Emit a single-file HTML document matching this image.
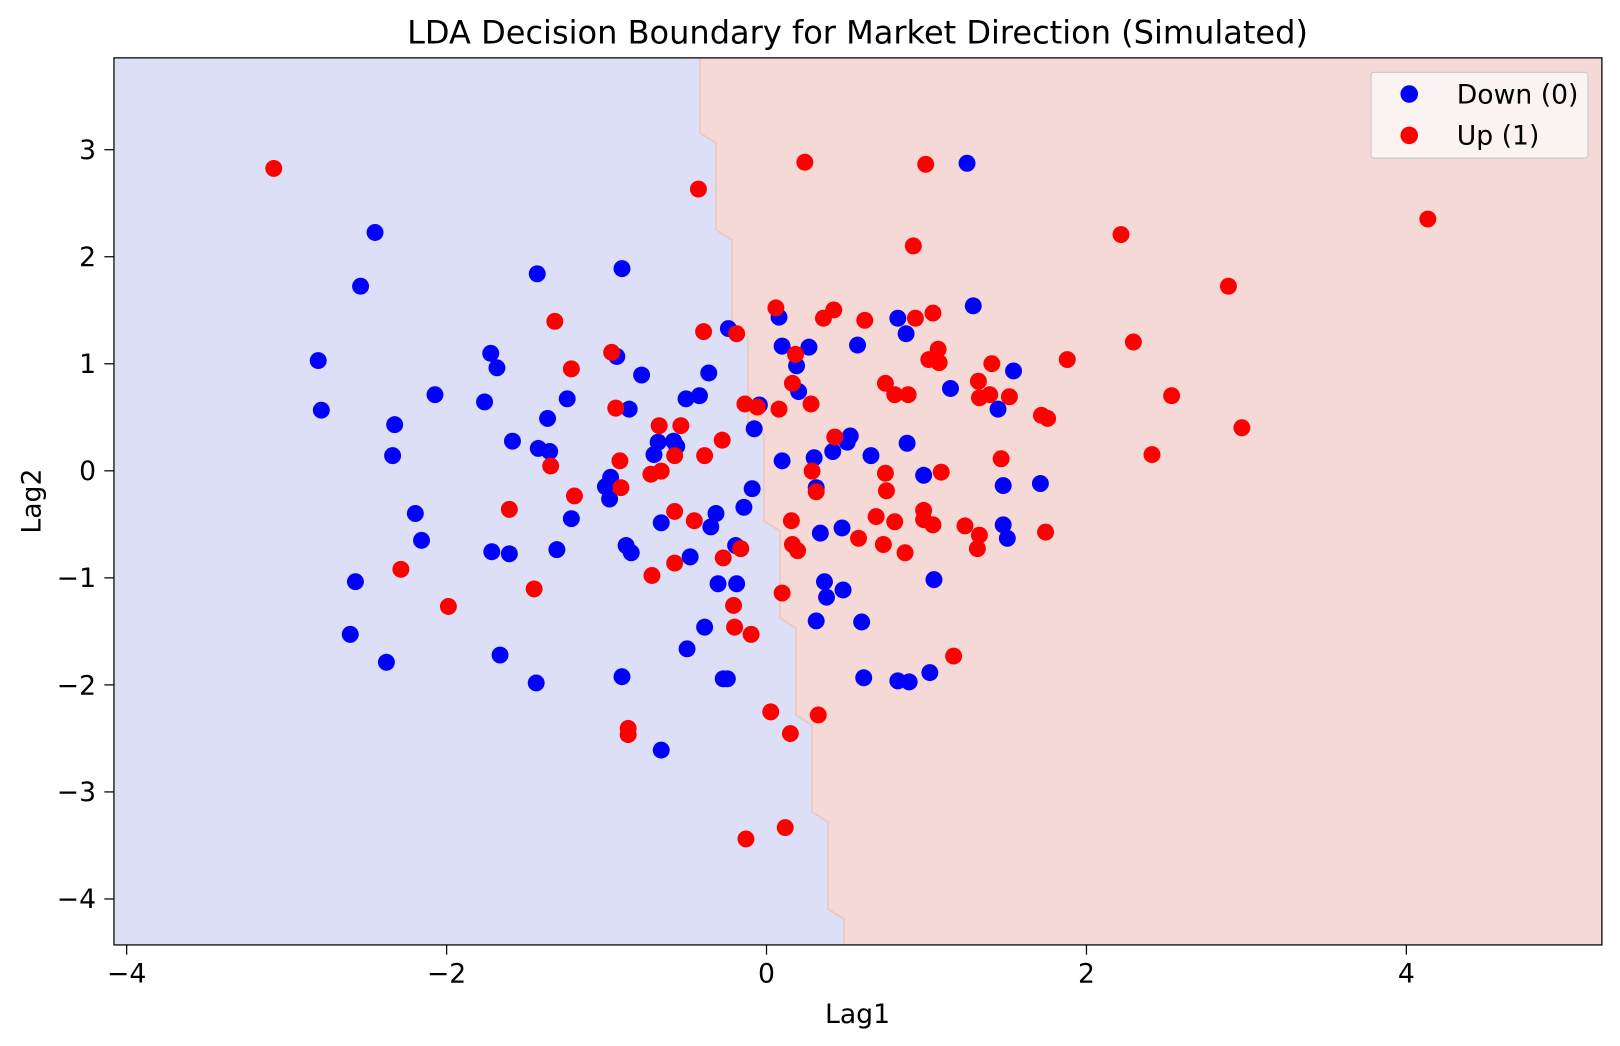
<!DOCTYPE html>
<html><head><meta charset="utf-8"><style>
html,body{margin:0;padding:0;background:#fff;}
svg{display:block;font-family:"DejaVu Sans","Liberation Sans",sans-serif;}
</style></head><body>
<svg width="1620" height="1046" viewBox="0 0 1568 1012.4" xmlns="http://www.w3.org/2000/svg">
<defs><clipPath id="c"><rect x="110.3" y="56" width="1440.2" height="858.6"/></clipPath></defs>
<rect x="110.3" y="56" width="1440.2" height="858.6" fill="#dcdff5"/>
<g clip-path="url(#c)">
<polygon fill="#f5d9d6" stroke="#f0c4bc" stroke-width="1.5" points="677.5,56 677.5,128.7 693,138.4 693,222.6 708.5,232.3 708.5,316.5 724,326.2 724,410.4 739.5,420.1 739.5,504.3 755,514 755,598.2 770.5,607.9 770.5,692.1 786,701.8 786,786 801.5,795.7 801.5,879.9 817,889.6 817,914.6 1550.5,914.6 1550.5,56"/>
<g fill="#0000ff">
<circle cx="308" cy="349" r="8.2"/><circle cx="311" cy="397" r="8.2"/><circle cx="363" cy="225" r="8.2"/><circle cx="349" cy="277" r="8.2"/><circle cx="382" cy="411" r="8.2"/><circle cx="380" cy="441" r="8.2"/><circle cx="402" cy="497" r="8.2"/><circle cx="408" cy="523" r="8.2"/><circle cx="421" cy="382" r="8.2"/><circle cx="344" cy="563" r="8.2"/><circle cx="339" cy="614" r="8.2"/><circle cx="374" cy="641" r="8.2"/><circle cx="469" cy="389" r="8.2"/><circle cx="475" cy="342" r="8.2"/><circle cx="481" cy="356" r="8.2"/><circle cx="476" cy="534" r="8.2"/><circle cx="493" cy="536" r="8.2"/><circle cx="496" cy="427" r="8.2"/><circle cx="520" cy="265" r="8.2"/><circle cx="521" cy="434" r="8.2"/><circle cx="530" cy="405" r="8.2"/><circle cx="532" cy="437" r="8.2"/><circle cx="549" cy="386" r="8.2"/><circle cx="553" cy="502" r="8.2"/><circle cx="539" cy="532" r="8.2"/><circle cx="484" cy="634" r="8.2"/><circle cx="519" cy="661" r="8.2"/><circle cx="586" cy="471" r="8.2"/><circle cx="591" cy="462" r="8.2"/><circle cx="590" cy="483" r="8.2"/><circle cx="597" cy="345" r="8.2"/><circle cx="602" cy="260" r="8.2"/><circle cx="609" cy="396" r="8.2"/><circle cx="621" cy="363" r="8.2"/><circle cx="633" cy="440" r="8.2"/><circle cx="637" cy="428" r="8.2"/><circle cx="640" cy="506" r="8.2"/><circle cx="652" cy="427" r="8.2"/><circle cx="655" cy="432" r="8.2"/><circle cx="606" cy="528" r="8.2"/><circle cx="611" cy="535" r="8.2"/><circle cx="602" cy="655" r="8.2"/><circle cx="640" cy="726" r="8.2"/><circle cx="664" cy="386" r="8.2"/><circle cx="665" cy="628" r="8.2"/><circle cx="668" cy="539" r="8.2"/><circle cx="677" cy="383" r="8.2"/><circle cx="686" cy="361" r="8.2"/><circle cx="688" cy="510" r="8.2"/><circle cx="693" cy="497" r="8.2"/><circle cx="682" cy="607" r="8.2"/><circle cx="695" cy="565" r="8.2"/><circle cx="704" cy="657" r="8.2"/><circle cx="700" cy="657" r="8.2"/><circle cx="705" cy="318" r="8.2"/><circle cx="712" cy="528" r="8.2"/><circle cx="713" cy="565" r="8.2"/><circle cx="720" cy="491" r="8.2"/><circle cx="728" cy="473" r="8.2"/><circle cx="730" cy="415" r="8.2"/><circle cx="735" cy="392" r="8.2"/><circle cx="754" cy="307" r="8.2"/><circle cx="757" cy="335" r="8.2"/><circle cx="757" cy="446" r="8.2"/><circle cx="771" cy="354" r="8.2"/><circle cx="773" cy="379" r="8.2"/><circle cx="783" cy="336" r="8.2"/><circle cx="788" cy="443" r="8.2"/><circle cx="790" cy="472" r="8.2"/><circle cx="794" cy="516" r="8.2"/><circle cx="790" cy="601" r="8.2"/><circle cx="798" cy="563" r="8.2"/><circle cx="800" cy="578" r="8.2"/><circle cx="806" cy="437" r="8.2"/><circle cx="815" cy="511" r="8.2"/><circle cx="816" cy="571" r="8.2"/><circle cx="820" cy="428" r="8.2"/><circle cx="823" cy="422" r="8.2"/><circle cx="830" cy="334" r="8.2"/><circle cx="843" cy="441" r="8.2"/><circle cx="834" cy="602" r="8.2"/><circle cx="836" cy="656" r="8.2"/><circle cx="869" cy="308" r="8.2"/><circle cx="877" cy="323" r="8.2"/><circle cx="878" cy="429" r="8.2"/><circle cx="869" cy="659" r="8.2"/><circle cx="880" cy="660" r="8.2"/><circle cx="894" cy="460" r="8.2"/><circle cx="900" cy="651" r="8.2"/><circle cx="904" cy="561" r="8.2"/><circle cx="920" cy="376" r="8.2"/><circle cx="936" cy="158" r="8.2"/><circle cx="942" cy="296" r="8.2"/><circle cx="966" cy="396" r="8.2"/><circle cx="971" cy="470" r="8.2"/><circle cx="971" cy="508" r="8.2"/><circle cx="975" cy="521" r="8.2"/><circle cx="981" cy="359" r="8.2"/><circle cx="1007" cy="468" r="8.2"/>
</g>
<g fill="#ff0000">
<circle cx="265" cy="163" r="8.2"/><circle cx="388" cy="551" r="8.2"/><circle cx="434" cy="587" r="8.2"/><circle cx="493" cy="493" r="8.2"/><circle cx="517" cy="570" r="8.2"/><circle cx="533" cy="451" r="8.2"/><circle cx="537" cy="311" r="8.2"/><circle cx="553" cy="357" r="8.2"/><circle cx="556" cy="480" r="8.2"/><circle cx="592" cy="341" r="8.2"/><circle cx="596" cy="395" r="8.2"/><circle cx="600" cy="446" r="8.2"/><circle cx="601" cy="472" r="8.2"/><circle cx="608" cy="705" r="8.2"/><circle cx="608" cy="711" r="8.2"/><circle cx="630" cy="459" r="8.2"/><circle cx="638" cy="412" r="8.2"/><circle cx="640" cy="456" r="8.2"/><circle cx="653" cy="441" r="8.2"/><circle cx="659" cy="412" r="8.2"/><circle cx="653" cy="545" r="8.2"/><circle cx="631" cy="557" r="8.2"/><circle cx="653" cy="495" r="8.2"/><circle cx="672" cy="504" r="8.2"/><circle cx="676" cy="183" r="8.2"/><circle cx="681" cy="321" r="8.2"/><circle cx="682" cy="441" r="8.2"/><circle cx="699" cy="426" r="8.2"/><circle cx="700" cy="540" r="8.2"/><circle cx="713" cy="323" r="8.2"/><circle cx="717" cy="531" r="8.2"/><circle cx="710" cy="586" r="8.2"/><circle cx="711" cy="607" r="8.2"/><circle cx="721" cy="391" r="8.2"/><circle cx="722" cy="812" r="8.2"/><circle cx="727" cy="614" r="8.2"/><circle cx="733" cy="394" r="8.2"/><circle cx="746" cy="689" r="8.2"/><circle cx="751" cy="298" r="8.2"/><circle cx="754" cy="396" r="8.2"/><circle cx="757" cy="574" r="8.2"/><circle cx="760" cy="801" r="8.2"/><circle cx="767" cy="527" r="8.2"/><circle cx="765" cy="710" r="8.2"/><circle cx="766" cy="504" r="8.2"/><circle cx="767" cy="371" r="8.2"/><circle cx="770" cy="343" r="8.2"/><circle cx="772" cy="533" r="8.2"/><circle cx="779" cy="157" r="8.2"/><circle cx="785" cy="391" r="8.2"/><circle cx="786" cy="456" r="8.2"/><circle cx="790" cy="476" r="8.2"/><circle cx="792" cy="692" r="8.2"/><circle cx="797" cy="308" r="8.2"/><circle cx="807" cy="300" r="8.2"/><circle cx="808" cy="423" r="8.2"/><circle cx="837" cy="310" r="8.2"/><circle cx="831" cy="521" r="8.2"/><circle cx="848" cy="500" r="8.2"/><circle cx="855" cy="527" r="8.2"/><circle cx="857" cy="458" r="8.2"/><circle cx="858" cy="475" r="8.2"/><circle cx="857" cy="371" r="8.2"/><circle cx="866" cy="382" r="8.2"/><circle cx="866" cy="505" r="8.2"/><circle cx="876" cy="535" r="8.2"/><circle cx="879" cy="382" r="8.2"/><circle cx="884" cy="238" r="8.2"/><circle cx="886" cy="308" r="8.2"/><circle cx="894" cy="494" r="8.2"/><circle cx="894" cy="503" r="8.2"/><circle cx="896" cy="159" r="8.2"/><circle cx="899" cy="348" r="8.2"/><circle cx="903" cy="303" r="8.2"/><circle cx="903" cy="508" r="8.2"/><circle cx="908" cy="338" r="8.2"/><circle cx="909" cy="351" r="8.2"/><circle cx="911" cy="457" r="8.2"/><circle cx="923" cy="635" r="8.2"/><circle cx="934" cy="509" r="8.2"/><circle cx="946" cy="531" r="8.2"/><circle cx="947" cy="369" r="8.2"/><circle cx="948" cy="385" r="8.2"/><circle cx="948" cy="518" r="8.2"/><circle cx="958" cy="382" r="8.2"/><circle cx="960" cy="352" r="8.2"/><circle cx="969" cy="444" r="8.2"/><circle cx="977" cy="384" r="8.2"/><circle cx="1008" cy="402" r="8.2"/><circle cx="1014" cy="405" r="8.2"/><circle cx="1012" cy="515" r="8.2"/><circle cx="1033" cy="348" r="8.2"/><circle cx="1085" cy="227" r="8.2"/><circle cx="1097" cy="331" r="8.2"/><circle cx="1115" cy="440" r="8.2"/><circle cx="1134" cy="383" r="8.2"/><circle cx="1189" cy="277" r="8.2"/><circle cx="1202" cy="414" r="8.2"/><circle cx="1382" cy="212" r="8.2"/>
</g>
</g>
<rect x="110.3" y="56" width="1440.2" height="858.6" fill="none" stroke="#000" stroke-width="1.2"/>
<g stroke="#000" stroke-width="1.2">
<line x1="122.6" x2="122.6" y1="914.6" y2="924"/><line x1="432.3" x2="432.3" y1="914.6" y2="924"/><line x1="741.9" x2="741.9" y1="914.6" y2="924"/><line x1="1051.6" x2="1051.6" y1="914.6" y2="924"/><line x1="1361.2" x2="1361.2" y1="914.6" y2="924"/>
<line x1="101" x2="110.3" y1="870.1" y2="870.1"/><line x1="101" x2="110.3" y1="766.5" y2="766.5"/><line x1="101" x2="110.3" y1="662.9" y2="662.9"/><line x1="101" x2="110.3" y1="559.3" y2="559.3"/><line x1="101" x2="110.3" y1="455.7" y2="455.7"/><line x1="101" x2="110.3" y1="352.1" y2="352.1"/><line x1="101" x2="110.3" y1="248.5" y2="248.5"/><line x1="101" x2="110.3" y1="144.9" y2="144.9"/>
</g>
<g font-size="25.8" fill="#000" text-anchor="middle">
<text x="122.6" y="951">−4</text><text x="432.3" y="951">−2</text><text x="741.9" y="951">0</text><text x="1051.6" y="951">2</text><text x="1361.2" y="951">4</text>
</g>
<g font-size="25.8" fill="#000" text-anchor="end">
<text x="93" y="879">−4</text><text x="93" y="775.5">−3</text><text x="93" y="672">−2</text><text x="93" y="568">−1</text><text x="93" y="464.7">0</text><text x="93" y="361">1</text><text x="93" y="257.5">2</text><text x="93" y="154">3</text>
</g>
<text x="830" y="42" font-size="31" text-anchor="middle">LDA Decision Boundary for Market Direction (Simulated)</text>
<text x="830" y="990" font-size="25.8" text-anchor="middle">Lag1</text>
<text x="39" y="485" font-size="25.8" text-anchor="middle" transform="rotate(-90 39 485)">Lag2</text>
<rect x="1327" y="70" width="210" height="83" rx="3" fill="#fbf5f5" fill-opacity="0.9" stroke="#ccc" stroke-width="1.2"/>
<circle cx="1364" cy="91" r="8.5" fill="#0000ff"/>
<circle cx="1364" cy="131" r="8.5" fill="#ff0000"/>
<text x="1410" y="100" font-size="25.8">Down (0)</text>
<text x="1410" y="140" font-size="25.8">Up (1)</text>
</svg>
</body></html>
